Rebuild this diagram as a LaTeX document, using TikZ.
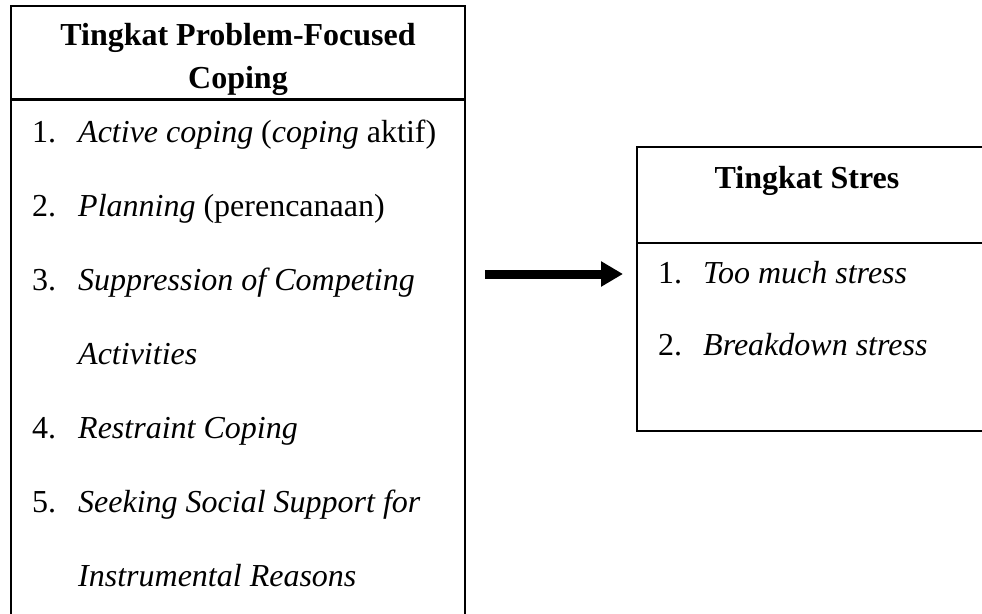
\documentclass[tikz,border=0pt]{standalone}
\usepackage{fontspec}
\setmainfont{Liberation Serif}
\usetikzlibrary{arrows.meta}
\begin{document}
\begin{tikzpicture}[x=1pt,y=-1pt,
  boxline/.style={line width=2pt},
  itemtxt/.style={anchor=base west, inner sep=0pt, font=\fontsize{32}{38}\selectfont},
  headtxt/.style={anchor=base, inner sep=0pt, font=\fontsize{32}{38}\selectfont\bfseries},
  bigarrow/.style={line width=9pt, -{Triangle[length=22pt,width=24pt]}}]
\useasboundingbox (0,0) rectangle (982,613);
\clip (0,0) rectangle (982,613);
\fill[white] (0,0) rectangle (982,613);
% left box
\draw[boxline] (11,620) -- (11,6) -- (465,6) -- (465,620);
\node[headtxt] (h1) at (238,45) {Tingkat Problem-Focused};
\node[headtxt] (h2) at (238,88) {Coping};
\fill[white] (12,96) rectangle (464,104);
\draw[line width=3pt] (11,99) -- (465,99);
\node[itemtxt] (n1) at (32,142) {1.};
\node[itemtxt] (t1) at (78,142) {\textit{Active coping} (\textit{coping} aktif)};
\node[itemtxt] (n2) at (32,216) {2.};
\node[itemtxt] (t2) at (78,216) {\textit{Planning} (perencanaan)};
\node[itemtxt] (n3) at (32,290) {3.};
\node[itemtxt] (t3) at (78,290) {\textit{Suppression of Competing}};
\node[itemtxt] (t3b) at (78,364) {\textit{Activities}};
\node[itemtxt] (n4) at (32,438) {4.};
\node[itemtxt] (t4) at (78,438) {\textit{Restraint Coping}};
\node[itemtxt] (n5) at (32,512) {5.};
\node[itemtxt] (t5) at (78,512) {\textit{Seeking Social Support for}};
\node[itemtxt] (t5b) at (78,586) {\textit{Instrumental Reasons}};
% right box
\draw[boxline] (990,147) -- (637,147) -- (637,431) -- (990,431);
\draw[boxline] (637,243) -- (990,243);
\node[headtxt] (s1) at (807,188) {Tingkat Stres};
\node[itemtxt] (m1) at (658,283) {1.};
\node[itemtxt] (u1) at (703,283) {\textit{Too much stress}};
\node[itemtxt] (m2) at (658,355) {2.};
\node[itemtxt] (u2) at (703,355) {\textit{Breakdown stress}};
% arrow
\coordinate (a1) at (485,274);
\coordinate (a2) at (623,274);
\draw[bigarrow] (a1) -- (a2);
\end{tikzpicture}
\end{document}
